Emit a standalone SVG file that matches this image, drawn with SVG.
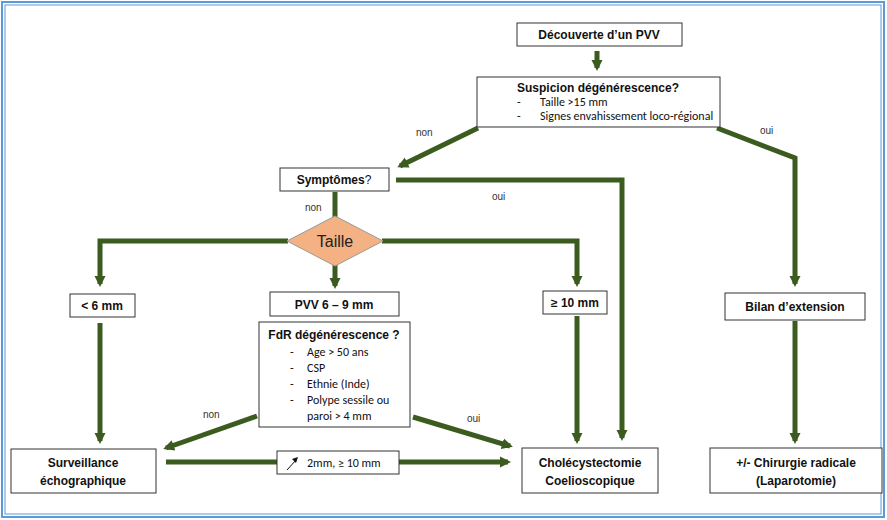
<svg xmlns="http://www.w3.org/2000/svg" width="887" height="520" viewBox="0 0 887 520">
<defs>
<marker id="ah" markerWidth="4" markerHeight="4" refX="1.6" refY="2" orient="auto" markerUnits="strokeWidth"><path d="M0,0.9 L2.2,2 L0,3.1 Z" fill="#3b5b1f"/></marker>
<style>
.b{fill:#fff;stroke:#333;stroke-width:1}
.t{font-family:Calibri,"Liberation Sans",sans-serif;font-size:12px;fill:#111}
.bt{font-family:"Liberation Sans",sans-serif;font-weight:bold;font-size:12px;fill:#111}
.c{fill:none;stroke:#3b5b1f;stroke-width:5}
.s{font-family:"Liberation Sans",sans-serif;font-size:10px;fill:#333}
</style>
</defs>
<rect x="0" y="0" width="887" height="520" fill="#fff"/>
<rect x="2" y="2" width="882" height="515" fill="none" stroke="#5b9bd5" stroke-width="2"/>
<rect x="5" y="5" width="876" height="509" fill="none" stroke="#5b9bd5" stroke-width="1"/>
<g id="connectors">
<path class="c" d="M597,51 V68" stroke-width="3" marker-end="url(#ah)"/>
<path class="c" d="M478,128 L400,166" marker-end="url(#ah)"/>
<path class="c" d="M717,128 L795,158 V284" marker-end="url(#ah)"/>
<path class="c" d="M396,180 H622 V438" marker-end="url(#ah)"/>
<path class="c" d="M335,192 V218"/>
<path class="c" d="M288,241 H100 V284" marker-end="url(#ah)"/>
<path class="c" d="M335,265 V286" marker-end="url(#ah)"/>
<path class="c" d="M382,241 H577 V284" marker-end="url(#ah)"/>
<path class="c" d="M100,323 V441" marker-end="url(#ah)"/>
<path class="c" d="M577,316 V441" marker-end="url(#ah)"/>
<path class="c" d="M795,321 V441" marker-end="url(#ah)"/>
<path class="c" d="M257,416 L166,448" marker-end="url(#ah)"/>
<path class="c" d="M413,417 L510,446" marker-end="url(#ah)"/>
<path class="c" d="M166,462 H508" marker-end="url(#ah)"/>
</g>
<text class="s" x="416" y="136">non</text>
<text class="s" x="760" y="134">oui</text>
<text class="s" x="492" y="200">oui</text>
<text class="s" x="305" y="211">non</text>
<text class="s" x="203" y="418">non</text>
<text class="s" x="467" y="422">oui</text>
<g id="n1"><rect class="b" x="517" y="23" width="165" height="23"/><text class="bt" x="599" y="39" text-anchor="middle">Découverte d’un PVV</text></g>
<g id="n2"><rect class="b" x="477" y="77" width="243" height="50"/>
<text class="bt" x="598" y="92" text-anchor="middle">Suspicion dégénérescence?</text>
<text class="t" font-size="9" x="517" y="106">-</text><text class="t" font-size="9" x="540" y="106">Taille &gt;15 mm</text>
<text class="t" font-size="9" x="517" y="120">-</text><text class="t" font-size="9" x="540" y="120">Signes envahissement loco-régional</text></g>
<g id="n3"><rect class="b" x="280" y="168" width="109" height="23"/><text class="bt" x="334" y="184" text-anchor="middle">Symptômes<tspan font-weight="normal">?</tspan></text></g>
<g id="n4"><path d="M335,216 L383,241 L335,266 L287,241 Z" fill="#f4b183" stroke="#999"/><text x="335" y="247" text-anchor="middle" font-family="'Liberation Sans',sans-serif" font-size="16" fill="#222">Taille</text></g>
<g id="n5"><rect class="b" x="70" y="294" width="65" height="23"/><text class="bt" x="102" y="310" text-anchor="middle">&lt; 6 mm</text></g>
<g id="n6"><rect class="b" x="270" y="292" width="129" height="24"/><text class="bt" x="334" y="309" text-anchor="middle">PVV 6 – 9 mm</text></g>
<g id="n7"><rect class="b" x="543" y="291" width="64" height="23"/><text class="bt" x="575" y="307" text-anchor="middle">≥ 10 mm</text></g>
<g id="n8"><rect class="b" x="259" y="322" width="151" height="105"/>
<text class="bt" x="334" y="339" text-anchor="middle">FdR dégénérescence ?</text>
<text class="t" x="290" y="356">-</text><text class="t" x="307" y="356">Age &gt; 50 ans</text>
<text class="t" x="290" y="372">-</text><text class="t" x="307" y="372">CSP</text>
<text class="t" x="290" y="388">-</text><text class="t" x="307" y="388">Ethnie (Inde)</text>
<text class="t" x="290" y="404">-</text><text class="t" x="307" y="404">Polype sessile ou</text>
<text class="t" x="307" y="420">paroi &gt; 4 mm</text></g>
<g id="n9"><rect class="b" x="725" y="293" width="140" height="27"/><text class="bt" x="795" y="311" text-anchor="middle" font-size="13">Bilan d’extension</text></g>
<g id="n10"><rect class="b" x="11" y="449" width="145" height="44"/><text class="bt" x="83" y="467" text-anchor="middle">Surveillance</text><text class="bt" x="83" y="485" text-anchor="middle">échographique</text></g>
<g id="n11"><rect class="b" x="277" y="451" width="122" height="23"/>
<path d="M287,470 L296,460" stroke="#111" stroke-width="1"/><path d="M298,457 L292,459 L296,463 Z" fill="#111"/>
<text class="t" x="307" y="467">2mm, ≥ 10 mm</text></g>
<g id="n12"><rect class="b" x="522" y="448" width="136" height="45"/><text class="bt" x="590" y="467" text-anchor="middle" font-size="13">Cholécystectomie</text><text class="bt" x="590" y="485" text-anchor="middle" font-size="13">Coelioscopique</text></g>
<g id="n13"><rect class="b" x="710" y="448" width="172" height="45"/><text class="bt" x="796" y="467" text-anchor="middle" font-size="13">+/- Chirurgie radicale</text><text class="bt" x="796" y="485" text-anchor="middle" font-size="13">(Laparotomie)</text></g>
</svg>
